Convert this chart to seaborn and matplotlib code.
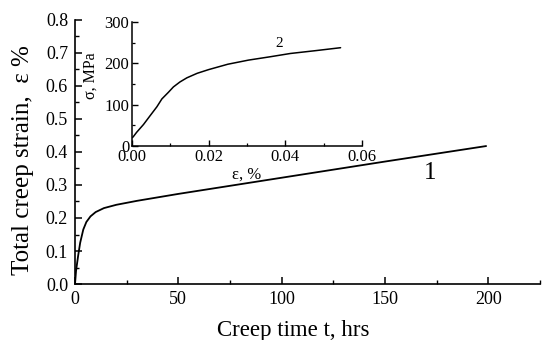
import matplotlib
matplotlib.use("Agg")
import matplotlib.pyplot as plt
from matplotlib.ticker import MultipleLocator, FormatStrFormatter
import seaborn as sns
import pandas as pd

# Creep curve (curve 1): total creep strain vs time
creep_time_hrs = [0, 0.5, 1.5, 2.5, 4, 5.5, 7.5, 10, 14, 20, 30, 50, 100, 150, 199]
creep_strain_pct = [0, 0.04, 0.085, 0.125, 0.165, 0.188, 0.205, 0.218, 0.23, 0.24,
                    0.252, 0.273, 0.322, 0.371, 0.418]

# Loading curve (curve 2): stress vs strain
load_strain_pct = [0.0, 0.0003, 0.0012, 0.003, 0.0047, 0.0065, 0.0078, 0.0095, 0.0108,
                   0.0125, 0.0143, 0.017, 0.020, 0.025, 0.0304, 0.036, 0.0413, 0.048, 0.0544]
load_stress_mpa = [20, 22, 33, 52, 73, 95, 114, 130, 143, 155, 165, 176, 185, 198, 208,
                   216, 224, 231, 238]

creep_df = pd.DataFrame({"t": creep_time_hrs, "eps": creep_strain_pct})
load_df = pd.DataFrame({"eps": load_strain_pct, "sigma": load_stress_mpa})

sns.set_theme(style="ticks")
plt.rcParams["font.family"] = ["Liberation Serif", "DejaVu Serif"]
plt.rcParams["mathtext.fontset"] = "stix"

fig = plt.figure(figsize=(5.42, 3.4), dpi=100)
ax = fig.add_axes([0.1384, 0.1647, 0.8576, 0.7765])
sns.lineplot(data=creep_df, x="t", y="eps", ax=ax, color="black", linewidth=1.3,
             estimator=None, sort=False)
ax.set_xlim(0, 225)
ax.set_ylim(0, 0.8)
ax.xaxis.set_major_locator(MultipleLocator(50))
ax.xaxis.set_minor_locator(MultipleLocator(25))
ax.yaxis.set_major_locator(MultipleLocator(0.1))
ax.yaxis.set_minor_locator(MultipleLocator(0.05))
ax.yaxis.set_major_formatter(FormatStrFormatter("%.1f"))
for side in ("top", "right"):
    ax.spines[side].set_visible(False)
for side in ("left", "bottom"):
    ax.spines[side].set_linewidth(1.2)
    ax.spines[side].set_color("black")
ax.tick_params(which="major", direction="in", length=5, width=1.1, labelsize=13,
               colors="black", pad=5)
ax.tick_params(which="minor", direction="in", length=3, width=1.0, colors="black")
ax.set_xlabel("Creep time t, hrs", fontsize=16.5, color="black")
ax.set_ylabel("Total creep strain,  ε %", fontsize=18, color="black")
ax.xaxis.set_label_coords(0.469, -0.135)
ax.yaxis.set_label_coords(-0.088, 0.47)
ax.text(172, 0.335, "1", fontsize=18, ha="center", va="center", color="black")

# Inset: loading curve
ins = fig.add_axes([0.2435, 0.5706, 0.4245, 0.3644])
ins.patch.set_alpha(0)
sns.lineplot(data=load_df, x="eps", y="sigma", ax=ins, color="black", linewidth=1.1,
             estimator=None, sort=False)
ins.set_xlim(0, 0.06)
ins.set_ylim(0, 300)
ins.xaxis.set_major_locator(MultipleLocator(0.02))
ins.xaxis.set_minor_locator(MultipleLocator(0.01))
ins.yaxis.set_major_locator(MultipleLocator(100))
ins.yaxis.set_minor_locator(MultipleLocator(50))
ins.xaxis.set_major_formatter(FormatStrFormatter("%.2f"))
for side in ("top", "right"):
    ins.spines[side].set_visible(False)
for side in ("left", "bottom"):
    ins.spines[side].set_linewidth(1.1)
    ins.spines[side].set_color("black")
ins.tick_params(which="major", direction="in", length=4, width=1.0, labelsize=12,
                colors="black", pad=2)
ins.tick_params(which="minor", direction="in", length=2.5, width=0.9, colors="black")
ins.set_xlabel("ε, %", fontsize=12, color="black", labelpad=1)
ins.set_ylabel("σ, MPa", fontsize=11.5, color="black")
ins.yaxis.set_label_coords(-0.145, 0.57)
ins.text(0.0385, 248, "2", fontsize=11, ha="center", va="center", color="black")

fig.savefig("out.png", dpi=100)
